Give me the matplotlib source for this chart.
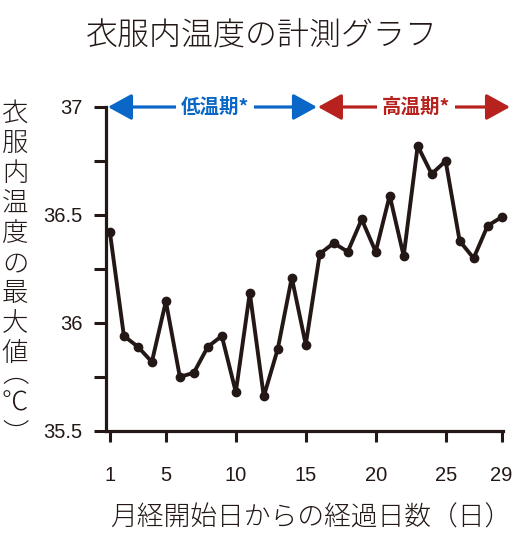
import matplotlib
matplotlib.use('Agg')
import matplotlib.pyplot as plt
from matplotlib.patches import FancyArrowPatch, ArrowStyle

# 月経開始日からの経過日数 と 衣服内温度の最大値
days = list(range(1, 30))
temps = [36.42, 35.94, 35.89, 35.82, 36.10, 35.75, 35.77, 35.89, 35.94, 35.68,
         36.14, 35.66, 35.88, 36.21, 35.90, 36.32, 36.37, 36.33, 36.48, 36.33,
         36.59, 36.31, 36.82, 36.69, 36.75, 36.38, 36.30, 36.45, 36.49]
xticks = [1, 5, 10, 15, 20, 25, 29]
yticks_major = [35.5, 36, 36.5, 37]
yticks_minor = [35.75, 36.25, 36.75]

# 期間（矢印）
low_span = (0.86, 15.8)
high_span = (15.87, 29.6)

title = '衣服内温度の計測グラフ'
xlabel = '月経開始日からの経過日数（日）'
ylabel_chars = ['衣', '服', '内', '温', '度', 'の', '最', '大', '値']
ylabel_unit = ['︵', '℃', '︶']

ink = '#231815'
blue = '#0A67C8'
red = '#B7211E'
jp = ['Noto Sans CJK JP', 'DejaVu Sans']
num = ['Liberation Sans', 'DejaVu Sans']

fig = plt.figure(figsize=(5.26, 5.46), dpi=100)
ax = fig.add_axes([106 / 526, 1 - 431 / 546, 397 / 526, 324 / 546])

ax.plot(days, temps, color=ink, lw=2.8, marker='o', ms=6, mfc=ink, mec=ink,
        solid_joinstyle='round', clip_on=False, zorder=3)

ax.set_xlim(0.72, 29.1)
ax.set_ylim(35.5, 37)
for s in ['top', 'right']:
    ax.spines[s].set_visible(False)
for s in ['left', 'bottom']:
    ax.spines[s].set_linewidth(2.3)
    ax.spines[s].set_color(ink)

ax.set_xticks(xticks)
ax.set_xticklabels([str(d) for d in xticks], family=num, fontsize=14.5, color=ink)
ax.set_yticks(yticks_major)
ax.set_yticklabels(['35.5', '36', '36.5', '37'], family=num, fontsize=14.5, color=ink)
ax.set_yticks(yticks_minor, minor=True)
ax.tick_params(axis='x', direction='out', length=8, width=2.2, color=ink, pad=17)
ax.tick_params(axis='y', which='both', direction='out', length=9, width=2.2, color=ink, pad=8)

# 低温期 / 高温期 の矢印
for (x0, x1), col, label in [(low_span, blue, '低温期*'), (high_span, red, '高温期*')]:
    arr = FancyArrowPatch((x0, 37), (x1, 37),
                          arrowstyle=ArrowStyle('<|-|>', head_length=1.45, head_width=0.8),
                          mutation_scale=10, color=col, lw=2.3, shrinkA=0, shrinkB=0,
                          clip_on=False, zorder=5)
    ax.add_patch(arr)
    ax.text((x0 + x1) / 2 + 0.15, 37, label, color=col, family=jp, fontsize=14,
            fontweight='bold', ha='center', va='center', zorder=6, clip_on=False,
            bbox=dict(boxstyle='square,pad=0.25', fc='white', ec='none'))

fig.text(262 / 526, 1 - 36 / 546, title, family=jp, fontsize=23, color=ink,
         ha='center', va='center', fontweight='light')
fig.text(311 / 526, 1 - 518 / 546, xlabel, family=jp, fontsize=19.3, color=ink,
         ha='center', va='center', fontweight='light')
fig.text(15 / 526, 1 - 233 / 546, '\n'.join(ylabel_chars), family=jp, fontsize=19,
         color=ink, ha='center', va='center', linespacing=1.09, fontweight='light')
# 単位（縦書きの括弧）
for ch, yp in zip(ylabel_unit, [374, 402, 434]):
    fig.text(15 / 526, 1 - yp / 546, ch, family=jp, fontsize=19,
             color=ink, ha='center', va='center', fontweight='light')

fig.savefig('out.png', dpi=100, facecolor='white')
